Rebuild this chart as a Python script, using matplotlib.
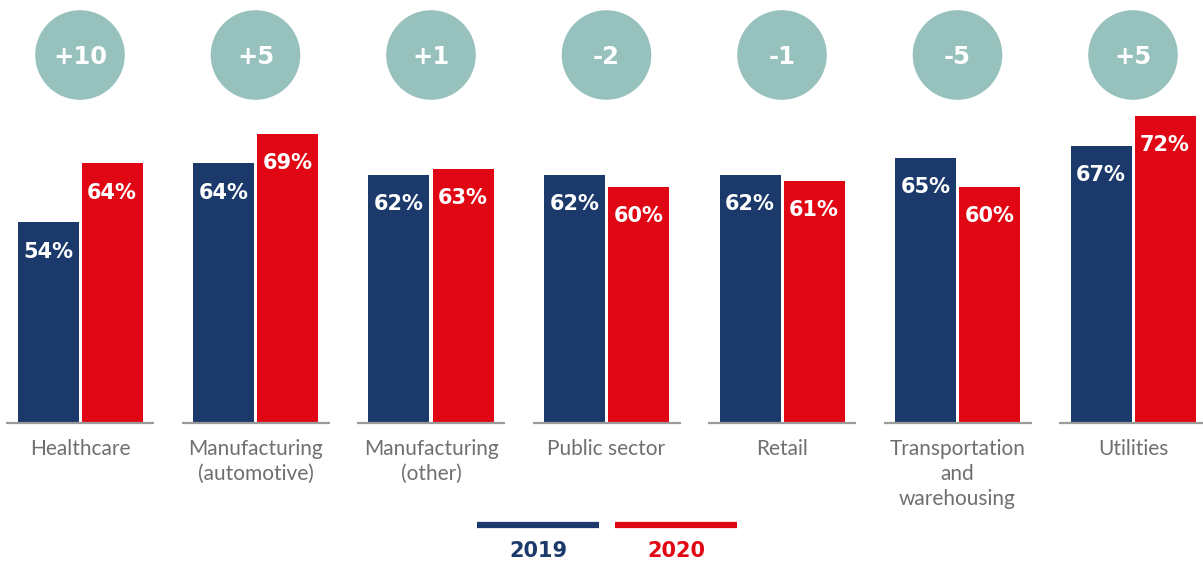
import numpy as np
import matplotlib.pyplot as plt

# data
categories = ['Healthcare', 'Manufacturing\n(automotive)', 'Manufacturing\n(other)', 'Public sector',
              'Retail', 'Transportation\nand\nwarehousing', 'Utilities']
vals_2019 = [54, 64, 62, 62, 62, 65, 67]
vals_2020 = [64, 69, 63, 60, 61, 60, 72]
changes = ['+10', '+5', '+1', '-2', '-1', '-5', '+5']
years = ['2019', '2020']

navy = '#1b3a6b'
red = '#e10613'
teal = '#96c1bd'
grey = '#6f6f6f'

base = 20  # bars start from this value
px_x = 175.5  # pixels per group
px_y = 5.9    # pixels per percent

fig = plt.figure(figsize=(12.03, 5.62), dpi=100)
ax = fig.add_axes([0, 0, 1, 1])
ax.set_xlim(-80 / px_x, (1203 - 80) / px_x)
ax.set_ylim(base - (562 - 423) / px_y, base + 423 / px_y)
ax.axis('off')

x = np.arange(len(categories))
w = 61 / px_x
off = 32 / px_x

b1 = ax.bar(x - off, np.array(vals_2019) - base, w, bottom=base, color=navy)
b2 = ax.bar(x + off, np.array(vals_2020) - base, w, bottom=base, color=red)

# value labels inside bars
for bars, vals in [(b1, vals_2019), (b2, vals_2020)]:
    for r, v in zip(bars, vals):
        ax.annotate(f'{v}%', (r.get_x() + r.get_width() / 2, v), xytext=(0, -21),
                    textcoords='offset points', ha='center', va='center',
                    color='white', fontsize=15, fontweight='bold', family='DejaVu Sans')

# baseline segments per group
ax.hlines([base] * len(x), x - 74 / px_x, x + 74 / px_x, color='#9a9a9a', lw=1.6)

# category labels
for xi, c in zip(x, categories):
    ax.text(xi, base - 16 / px_y, c, ha='center', va='top', fontsize=15,
            color=grey, family='Lato', linespacing=1.32)

# change circles
cy = base + (423 - 55) / px_y
ax.scatter(x, [cy] * len(x), s=64.5 ** 2, color=teal, edgecolors='none', zorder=2)
for xi, ch in zip(x, changes):
    ax.text(xi, cy - 2 / px_y, ch, ha='center', va='center', color='white', fontsize=17.5,
            fontweight='bold', family='DejaVu Sans', zorder=3)

# legend
ly = base - (525 - 423) / px_y
ty = base - (551 - 423) / px_y
for (x0, x1), col, yr in [((477, 599), navy, years[0]), ((615, 737), red, years[1])]:
    ax.plot([(x0 - 80) / px_x, (x1 - 80) / px_x], [ly, ly], color=col, lw=4.5, solid_capstyle='butt')
    ax.text(((x0 + x1) / 2 - 80) / px_x, ty, yr, ha='center', va='center', color=col,
            fontsize=15, fontweight='bold', family='DejaVu Sans')

fig.savefig('out.png', dpi=100)
